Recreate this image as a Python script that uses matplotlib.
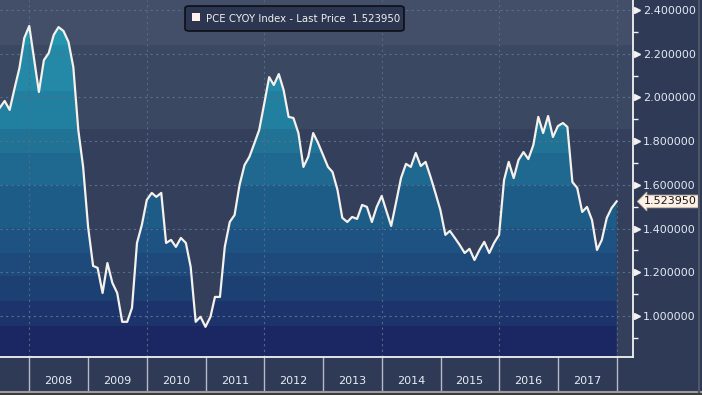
import numpy as np
import pandas as pd
import matplotlib
matplotlib.use("Agg")
import matplotlib.pyplot as plt
import matplotlib.dates as mdates
import matplotlib.transforms as mtransforms
from matplotlib.patches import PathPatch, FancyBboxPatch, Rectangle
from matplotlib.lines import Line2D

# PCE core YoY, monthly
pce = [1.952, 1.984, 1.943, 2.040, 2.135, 2.272, 2.327, 2.171, 2.025, 2.171,
       2.203, 2.286, 2.322, 2.304, 2.254, 2.139, 1.851, 1.682, 1.407, 1.229,
       1.220, 1.105, 1.242, 1.151, 1.105, 0.973, 0.973, 1.037, 1.334, 1.416,
       1.531, 1.563, 1.545, 1.563, 1.334, 1.348, 1.316, 1.357, 1.334, 1.224,
       0.973, 0.996, 0.950, 0.996, 1.087, 1.087, 1.316, 1.430, 1.462, 1.600,
       1.691, 1.728, 1.790, 1.851, 1.970, 2.093, 2.057, 2.107, 2.034, 1.911,
       1.906, 1.837, 1.682, 1.728, 1.837, 1.792, 1.737, 1.682, 1.659, 1.577,
       1.449, 1.430, 1.453, 1.444, 1.508, 1.499, 1.430, 1.499, 1.549, 1.476,
       1.412, 1.522, 1.631, 1.696, 1.682, 1.746, 1.686, 1.705, 1.636, 1.563,
       1.485, 1.371, 1.389, 1.357, 1.325, 1.288, 1.307, 1.256, 1.302, 1.339,
       1.288, 1.334, 1.371, 1.622, 1.705, 1.631, 1.714, 1.750, 1.718, 1.782,
       1.911, 1.837, 1.915, 1.819, 1.869, 1.883, 1.865, 1.613, 1.586, 1.476,
       1.499, 1.439, 1.302, 1.348, 1.449, 1.494, 1.52395]
dates = pd.date_range("2007-06-30", periods=len(pce), freq="ME")
last_price = 1.523950
years = list(range(2008, 2018))
yticks = [1.0, 1.2, 1.4, 1.6, 1.8, 2.0, 2.2, 2.4]
legend_label = "PCE CYOY Index - Last Price  1.523950"

W, H = 702, 395
fig = plt.figure(figsize=(W / 100, H / 100), dpi=100, facecolor="#2e3a56")
ax = fig.add_axes([0, 38 / H, 633 / W, 357 / H])

ymin, ymax = 0.812, 2.446
ax.set_ylim(ymin, ymax)
ax.set_xlim(pd.Timestamp("2007-07-02"), pd.Timestamp("2018-04-12"))
ax.set_facecolor("#343f5b")

# background bands
ax.axhspan(2.24, ymax, color="#434f69", zorder=0, lw=0)
ax.axhspan(1.856, 2.24, color="#3b4862", zorder=0, lw=0)

# banded gradient fill under the line
x = mdates.date2num(dates)
poly = ax.fill_between(x, pce, ymin, color="none", lw=0)
clip = PathPatch(poly.get_paths()[0], transform=ax.transData,
                 facecolor="none", edgecolor="none")
ax.add_patch(clip)
band_edges = [2.446, 2.24, 2.03, 1.856, 1.746, 1.60, 1.403, 1.288, 1.183, 1.069, 0.954, 0.812]
band_colors = ["#2594ae", "#2389a6", "#217f9f", "#207395", "#1f6890", "#1e5c88",
               "#1e5282", "#1d4a7b", "#1c4072", "#1c346b", "#1b2762"]
for hi, lo, c in zip(band_edges[:-1], band_edges[1:], band_colors):
    r = ax.axhspan(lo, hi, color=c, zorder=1, lw=0)
    r.set_clip_path(clip)

ax.plot(x, pce, color="#f5f1ec", lw=1.6, zorder=4)

# grid
for v in yticks:
    ax.axhline(v, color="#56708e", lw=0.8, ls=(0, (2, 3)), zorder=3)
for yr in range(2008, 2020, 2):
    ax.axvline(pd.Timestamp(f"{yr}-01-01"), color="#4f6a8a", lw=0.8, ls=(0, (2, 3)), zorder=3)

# spines
for s in ["left", "top"]:
    ax.spines[s].set_visible(False)
for s in ["right", "bottom"]:
    ax.spines[s].set_color("#f2f2f2")
    ax.spines[s].set_linewidth(1.3)
    ax.spines[s].set_zorder(5)

# right y axis
ax.yaxis.tick_right()
ax.set_yticks(yticks)
ax.set_yticklabels([f"{v:.6f}" for v in yticks])
ax.set_yticks(np.arange(0.9, 2.41, 0.2), minor=True)
ax.tick_params(axis="y", which="major", length=0, pad=7, labelsize=8,
               labelcolor="#e2e9f3")
ax.tick_params(axis="y", which="minor", length=3.5, width=1, color="#f2f2f2")
tri = mtransforms.blended_transform_factory(ax.transAxes, ax.transData)
ax.plot(np.full(len(yticks), 1.007), yticks, ls="none", marker=">", ms=4.5,
        color="#f2f2f2", transform=tri, clip_on=False, zorder=6)

# x axis: year separators + centered labels
ax.xaxis.set_major_locator(mdates.YearLocator())
ax.xaxis.set_major_formatter(plt.NullFormatter())
ax.xaxis.set_minor_locator(matplotlib.ticker.FixedLocator(
    [mdates.date2num(pd.Timestamp(f"{y}-07-01")) for y in years]))
ax.xaxis.set_minor_formatter(matplotlib.ticker.FixedFormatter([str(y) for y in years]))
ax.tick_params(axis="x", which="major", length=24.5, width=1, color="#b4bac6", direction="out")
ax.tick_params(axis="x", which="minor", length=0, pad=14, labelsize=8, labelcolor="#e8edf5")

# last price tag
ax.annotate(f"{last_price:.6f}", xy=(1.0, last_price), xycoords=tri,
            xytext=(1.0175, last_price), textcoords=tri, ha="left", va="center",
            fontsize=8, color="#1a1a1a", annotation_clip=False, zorder=7,
            bbox=dict(boxstyle="larrow,pad=0.12", fc="#fdf1e6", ec="#c9b9a8", lw=0.6))

# legend box (pixel positions from top-left)
def px(xp, yp):
    return xp / W, 1 - yp / H

box = FancyBboxPatch(px(185, 31), 219 / W, 25 / H, transform=fig.transFigure,
                     boxstyle="round,pad=0,rounding_size=0.006",
                     fc="#2c3651", ec="#0d0f16", lw=1.2, zorder=8)
fig.patches.append(box)
fig.patches.append(Rectangle(px(192, 21), 8 / W, 8 / H, transform=fig.transFigure,
                             fc="#fff0ec", ec="none", zorder=9))
fig.text(*px(206, 18.5), legend_label, color="#f0f0f0", fontsize=7.3,
         va="center", ha="left", zorder=10)

# bottom / right border lines
fig.add_artist(Line2D([0, 1], [3 / H, 3 / H], color="#9c9c9c", lw=1.5))
fig.add_artist(Line2D([699 / W, 699 / W], [3 / H, 1], color="#505666", lw=1.5))
fig.patches.append(Rectangle((0, 0), 1, 2 / H, transform=fig.transFigure,
                             color="#3a3a3a", zorder=0))

fig.savefig("out.png", dpi=100, facecolor=fig.get_facecolor())
